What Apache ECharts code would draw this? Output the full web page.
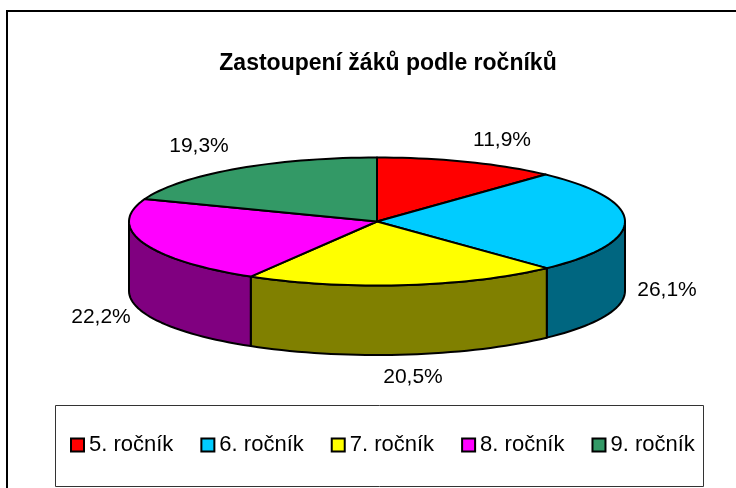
<!DOCTYPE html>
<html><head><meta charset="utf-8">
<style>html,body{margin:0;padding:0;background:#fff}#c{width:736px;height:488px}</style>
<script src="https://cdn.jsdelivr.net/npm/echarts@6/dist/echarts.min.js"></script>
</head><body><div id="c"></div>
<script>
const categories = ['5. ročník','6. ročník','7. ročník','8. ročník','9. ročník'];
const shares = [11.9,26.1,20.5,22.2,19.3];
const topColors = ['#ff0000','#00ccff','#ffff00','#ff00ff','#339966'];
const wallColors = ['#800000','#006680','#808000','#800080','#1a4d33'];
const chartTitle = 'Zastoupení žáků podle ročníků';

const cx=377, cy=221.5, rx=248, ry=64, depth=69.5;
const total = shares.reduce((a,b)=>a+b,0);
const pt=(a,dy)=>[cx+rx*Math.sin(a), cy-ry*Math.cos(a)+(dy||0)];
function arc(a0,a1,dy){const n=Math.max(2,Math.ceil((a1-a0)/(Math.PI/90)));const o=[];
  for(let i=0;i<=n;i++)o.push(pt(a0+(a1-a0)*i/n,dy));return o;}
const line={stroke:'#000',lineWidth:2,lineJoin:'round'};

let cum=0;
const series=categories.map((name,i)=>{
  const a0=cum/total*2*Math.PI; cum+=shares[i]; const a1=cum/total*2*Math.PI;
  return {
    type:'custom',name,coordinateSystem:'none',silent:true,
    itemStyle:{color:topColors[i],borderColor:'#000',borderWidth:1.5},
    data:[shares[i]],
    renderItem(){
      const ch=[];
      const w0=Math.max(a0,Math.PI/2), w1=Math.min(a1,1.5*Math.PI);
      if(w1>w0){
        const up=arc(w0,w1,0), dn=arc(w0,w1,depth).reverse();
        ch.push({type:'polygon',z2:1,shape:{points:up.concat(dn)},style:Object.assign({fill:wallColors[i]},line)});
      }
      ch.push({type:'polygon',z2:2,shape:{points:[[cx,cy]].concat(arc(a0,a1,0))},style:Object.assign({fill:topColors[i]},line)});
      return {type:'group',children:ch};
    }
  };
});

const labelPos=[[502,140],[667,290],[413,377],[101,317],[199,146]];
const chart=echarts.init(document.getElementById('c'),null,{renderer:'canvas'});
chart.setOption({
  animation:false,
  backgroundColor:'#fff',
  title:{text:chartTitle,left:383,top:47,textAlign:'center',
    textStyle:{fontFamily:'Liberation Sans',fontSize:23,fontWeight:'bold',color:'#000'}},
  legend:{
    left:70,top:434,padding:0,
    icon:'rect',itemWidth:13,itemHeight:13,itemGap:27,
    selectedMode:false,
    textStyle:{fontFamily:'Liberation Sans',fontSize:22,color:'#000'},
    data:categories
  },
  graphic:[
    {type:'rect',z:-1,shape:{x:7,y:11,width:760,height:520},style:{fill:'#fff',stroke:'#000',lineWidth:2}},
    {type:'rect',z:-1,shape:{x:55.5,y:405.5,width:648,height:81},style:{fill:'#fff',stroke:'#333',lineWidth:1}}
  ].concat(shares.map((v,i)=>({type:'text',z:10,x:labelPos[i][0],y:labelPos[i][1],
    style:{text:v.toFixed(1).replace('.',',')+'%',fontFamily:'Liberation Sans',fontSize:21,fill:'#000',align:'center',verticalAlign:'middle'}}))),
  series
});
</script></body></html>
